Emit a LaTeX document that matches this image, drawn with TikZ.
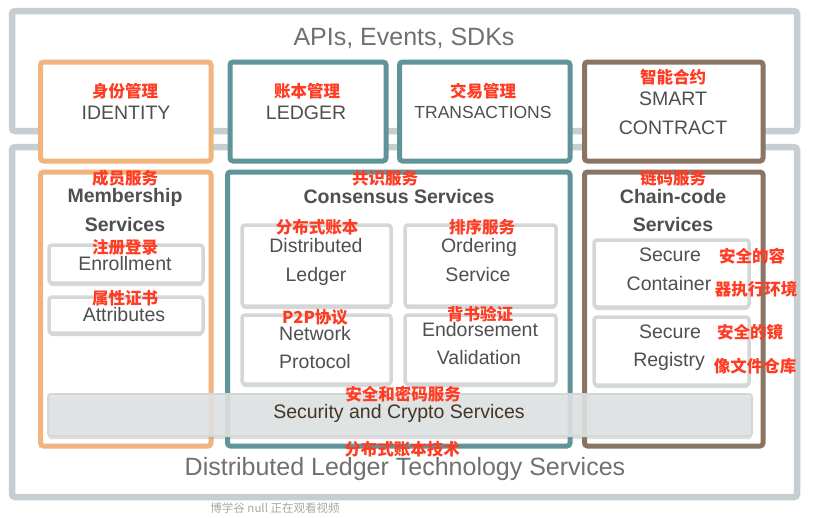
\documentclass[tikz,border=0pt]{standalone}
\usepackage{fontspec}
\setmainfont{Liberation Sans}
\newfontfamily\cjk{Noto Sans CJK SC}
\usetikzlibrary{shadows,fit}
\definecolor{outerc}{HTML}{C6CED1}
\definecolor{orangec}{HTML}{F2B47E}
\definecolor{tealc}{HTML}{5F9598}
\definecolor{brownc}{HTML}{8A7565}
\definecolor{subc}{HTML}{D4D7D8}
\definecolor{txt}{HTML}{4F4F4F}
\definecolor{lighttxt}{HTML}{707070}
\definecolor{lbl}{HTML}{FF3B22}
\definecolor{barc}{HTML}{E1E4E5}
\definecolor{wm}{HTML}{A8A8A8}
\begin{document}
\begin{tikzpicture}[x=1pt,y=-1pt,
  box/.style={inner sep=0pt, outer sep=0pt, rounded corners=3pt, fill=white},
  outerbox/.style={box, draw=outerc, line width=6.5pt,
     drop shadow={shadow xshift=0pt, shadow yshift=-2pt, opacity=0.25}},
  obox/.style={box, draw=orangec, line width=5pt,
     drop shadow={shadow xshift=0pt, shadow yshift=-2pt, opacity=0.2}},
  tbox/.style={box, draw=tealc, line width=5pt,
     drop shadow={shadow xshift=0pt, shadow yshift=-2pt, opacity=0.2}},
  bbox/.style={box, draw=brownc, line width=5pt,
     drop shadow={shadow xshift=0pt, shadow yshift=-2pt, opacity=0.2}},
  subbox/.style={box, draw=subc, line width=3.5pt,
     drop shadow={shadow xshift=0pt, shadow yshift=-3pt, opacity=0.3}},
  barbox/.style={box, draw=subc, line width=2pt, fill=barc, fill opacity=0.88,
     drop shadow={shadow xshift=0pt, shadow yshift=-3pt, opacity=0.25}},
  en/.style={inner sep=0pt, text=txt, font=\fontsize{19.5}{22}\selectfont},
  enb/.style={inner sep=0pt, text=txt, font=\fontsize{19.5}{22}\selectfont\bfseries},
  big/.style={inner sep=0pt, text=lighttxt, font=\fontsize{25}{28}\selectfont},
  zh/.style={inner sep=0pt, text=lbl, font=\cjk\bfseries\fontsize{16.5}{18}\selectfont},
]
\fill[white] (0,0) rectangle (813,517);
\useasboundingbox (0,0) rectangle (813,517);

% outer frames
\node[outerbox, fit={(12,11) (797,131)}] (apis) {};
\node[outerbox, fit={(12,147) (797,497)}] (dlt) {};

% top row
\node[obox, fit={(40.5,62) (211,161)}] (identity) {};
\node[tbox, fit={(230,62) (386,161)}] (ledger) {};
\node[tbox, fit={(399.5,62) (570,161)}] (trans) {};
\node[bbox, fit={(584.5,62) (763,161)}] (smart) {};

% bottom row columns
\node[obox, fit={(40.5,172) (211,446)}] (member) {};
\node[tbox, fit={(227.5,172) (570,446)}] (consensus) {};
\node[bbox, fit={(584.5,172) (763,446)}] (chain) {};

% sub boxes
\node[subbox, fit={(49,245) (203,283)}] (enroll) {};
\node[subbox, fit={(49,297) (203,333)}] (attr) {};
\node[subbox, fit={(242,225) (391,306)}] (dledger) {};
\node[subbox, fit={(405,225) (556,306)}] (order) {};
\node[subbox, fit={(242,315) (391,384)}] (network) {};
\node[subbox, fit={(405,315) (556,384)}] (endorse) {};
\node[subbox, fit={(594,240) (749,307)}] (container) {};
\node[subbox, fit={(594,317) (749,385)}] (registry) {};

% security bar
\node[barbox, fit={(48,394) (752,436)}] (security) {};

% texts
\node[big] (tapis) at (404,38) {APIs, Events, SDKs};
\node[big] (tdlt) at (405,469) {Distributed Ledger Technology Services};

\node[zh] (zid) at (125,91) {身份管理};
\node[en] (tid) at (126,113) {IDENTITY};
\node[zh] (zled) at (307,91) {账本管理};
\node[en] (tled) at (306,113) {LEDGER};
\node[zh] (ztr) at (483,91) {交易管理};
\node[en, font=\fontsize{17.5}{20}\selectfont] (ttr) at (483,112) {TRANSACTIONS};
\node[zh] (zsm) at (673,77) {智能合约};
\node[en] (tsm1) at (673,99) {SMART};
\node[en] (tsm2) at (673,128) {CONTRACT};

\node[zh] (zmem) at (125,178.5) {成员服务};
\node[enb] (tmem1) at (125,197) {Membership};
\node[enb] (tmem2) at (125,225) {Services};
\node[zh] (zcon) at (385,178.5) {共识服务};
\node[enb] (tcon) at (399,197) {Consensus Services};
\node[zh] (zch) at (673,178.5) {链码服务};
\node[enb] (tch1) at (673,197) {Chain-code};
\node[enb] (tch2) at (673,225) {Services};

\node[zh] (zenr) at (125,247) {注册登录};
\node[en] (tenr) at (125,264) {Enrollment};
\node[zh] (zatt) at (125,298) {属性证书};
\node[en] (tatt) at (124,315) {Attributes};

\node[zh] (zdl) at (317,227) {分布式账本};
\node[en] (tdl1) at (316,246) {Distributed};
\node[en] (tdl2) at (316,276) {Ledger};
\node[zh] (zord) at (482,227) {排序服务};
\node[en] (tord1) at (479,247) {Ordering};
\node[en] (tord2) at (478,275) {Service};
\node[zh] (znet) at (315,317) {P2P协议};
\node[en] (tnet1) at (315,334) {Network};
\node[en] (tnet2) at (315,362) {Protocol};
\node[zh] (zend) at (480,314) {背书验证};
\node[en] (tend1) at (480,330) {Endorsement};
\node[en] (tend2) at (479,358) {Validation};

\node[en] (tsc1) at (670,255) {Secure};
\node[en] (tsc2) at (669,284) {Container};
\node[zh] (zsc1) at (752,256) {安全的容};
\node[zh] (zsc2) at (756,289) {器执行环境};
\node[en] (tsr1) at (670,332) {Secure};
\node[en] (tsr2) at (669,361) {Registry};
\node[zh] (zsr1) at (750,332) {安全的镜};
\node[zh] (zsr2) at (755,366) {像文件仓库};

\node[zh] (zsec) at (403,394) {安全和密码服务};
\node[en, text=txt!80!orange!60!black] (tsec) at (399,413) {Security and Crypto Services};
\node[zh] (zdlt) at (402,449) {分布式账本技术};

\node[inner sep=0pt, text=wm, font=\cjk\fontsize{11.5}{13}\selectfont] (wmark) at (275,508) {博学谷 null 正在观看视频};
\end{tikzpicture}
\end{document}
